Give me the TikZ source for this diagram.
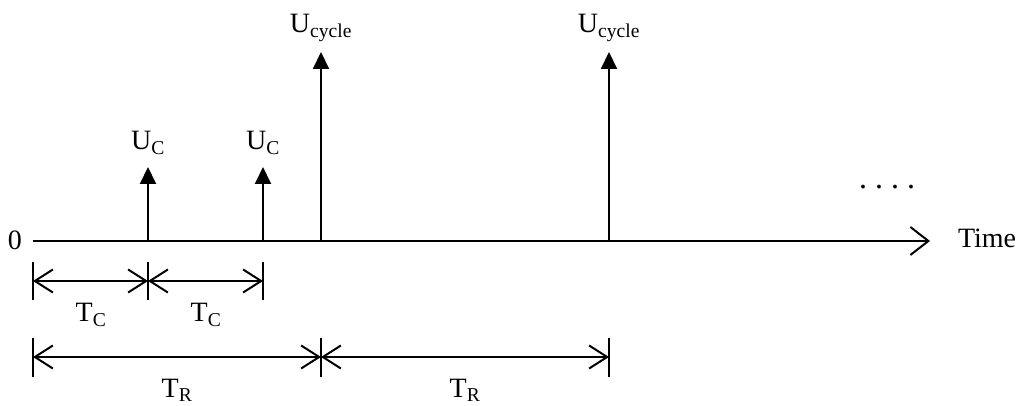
\documentclass[tikz,border=0pt]{standalone}
\usepackage{fontspec}
\setmainfont{Liberation Serif}
\usetikzlibrary{arrows.meta}
\begin{document}
\begin{tikzpicture}[x=1pt,y=-1pt,
  line width=2pt,
  lbl/.style={font=\fontsize{28}{30}\selectfont, inner sep=0pt},
  pulse/.style={-{Triangle[length=17pt,width=16pt]}},
  dim/.style={{Straight Barb[length=18pt,width=23pt,line width=2pt]}-{Straight Barb[length=18pt,width=23pt,line width=2pt]}, line width=2pt},
  tick/.style={line width=2pt}]
\useasboundingbox (0,0) rectangle (1028,406);
% axis
\coordinate (o) at (33,241);
\coordinate (end) at (930,241);
\node[lbl] (zero) at (15,240) {0};
\node[lbl, anchor=west] (time) at (957,238) {Time};
\draw[-{Straight Barb[length=18pt,width=28pt,line width=2pt]}] (o) -- (end);
% pulses
\coordinate (p1) at (148,241); \coordinate (p1t) at (148,167);
\coordinate (p2) at (263,241); \coordinate (p2t) at (263,167);
\coordinate (p3) at (321,241); \coordinate (p3t) at (321,52);
\coordinate (p4) at (609,241); \coordinate (p4t) at (609,52);
\draw[pulse] (p1) -- (p1t);
\draw[pulse] (p2) -- (p2t);
\draw[pulse] (p3) -- (p3t);
\draw[pulse] (p4) -- (p4t);
\node[lbl] (uc1) at (148,143) {U\textsubscript{C}};
\node[lbl] (uc2) at (263,143) {U\textsubscript{C}};
\node[lbl] (ucy1) at (321,28) {U\textsubscript{cycle}};
\node[lbl] (ucy2) at (609,28) {U\textsubscript{cycle}};
\node[lbl, anchor=base, font=\fontsize{32}{34}\selectfont] (dots) at (887,189) {.\hspace{8pt}.\hspace{8pt}.\hspace{8pt}.};
% dimension row 1
\foreach \x/\n in {33/a,148/b,263/c}{
  \draw[tick] (\x,262) -- (\x,300);
  \coordinate (d\n) at (\x,281);
}
\draw[dim] (da) -- (db);
\draw[dim] (db) -- (dc);
\node[lbl] (tc1) at (91,315) {T\textsubscript{C}};
\node[lbl] (tc2) at (206,315) {T\textsubscript{C}};
% dimension row 2
\foreach \x/\n in {33/a,321/b,609/c}{
  \draw[tick] (\x,338) -- (\x,377);
  \coordinate (e\n) at (\x,357);
}
\draw[dim] (ea) -- (eb);
\draw[dim] (eb) -- (ec);
\node[lbl] (tr1) at (177,390) {T\textsubscript{R}};
\node[lbl] (tr2) at (465,390) {T\textsubscript{R}};
\end{tikzpicture}
\end{document}
